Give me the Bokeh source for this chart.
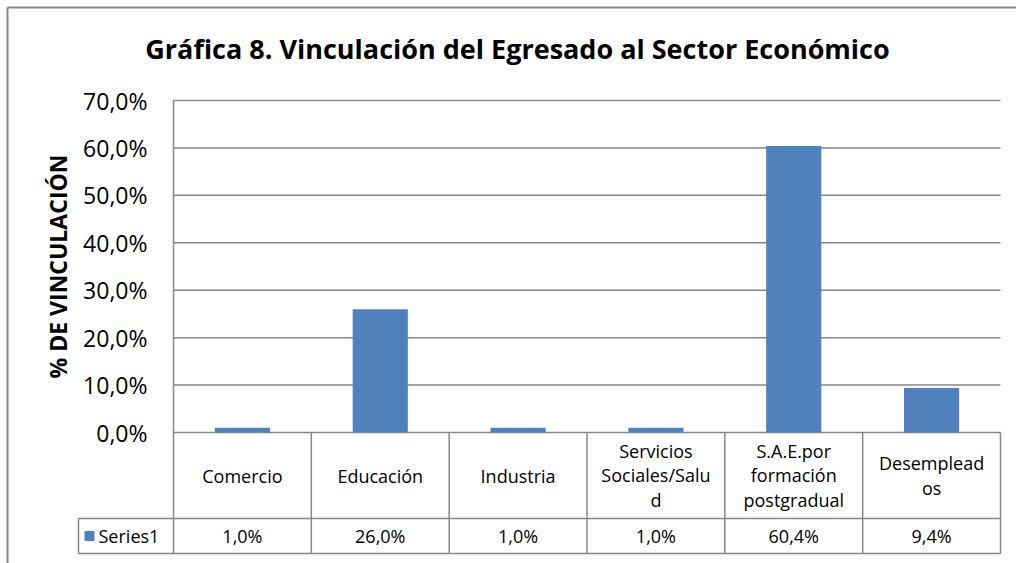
import math
from bokeh.plotting import figure
from bokeh.models import Range1d
from bokeh.core.properties import value
from bokeh.embed import file_html
from bokeh.resources import INLINE

# ---------------- data ----------------
title_text = "Gráfica 8. Vinculación del Egresado al Sector Económico"
y_title = "% DE VINCULACIÓN"
categories = ["Comercio", "Educación", "Industria",
              "Servicios\nSociales/Salu\nd",
              "S.A.E.por\nformación\npostgradual",
              "Desemplead\nos"]
series_name = "Series1"
values = [1.0, 26.0, 1.0, 1.0, 60.4, 9.4]
value_labels = ["1,0%", "26,0%", "1,0%", "1,0%", "60,4%", "9,4%"]
y_ticks = [0, 10, 20, 30, 40, 50, 60, 70]
y_tick_labels = ["0,0%", "10,0%", "20,0%", "30,0%", "40,0%", "50,0%", "60,0%", "70,0%"]

# ---------------- layout (page pixels) ----------------
W, H = 1016, 563
OFF = 0
PLOT_L, PLOT_R = 173, 1000
Y0, YTOP = 432, 100
ROW1_B, ROW2_B = 518, 553
LEG_L = 78
n = len(categories)
cat_w = (PLOT_R - PLOT_L) / n
px_per = (Y0 - YTOP) / y_ticks[-1]


def X(px):
    return (px - PLOT_L) / cat_w


def Y(py):
    return (Y0 - py) / px_per


BLUE = "#4F81BD"
GREY = "#878787"
FONT = value("Open Sans")

p = figure(width=W, height=H, output_backend="svg", toolbar_location=None,
           x_range=Range1d(X(OFF), X(OFF + W)), y_range=Range1d(Y(OFF + H), Y(OFF)),
           x_axis_type=None, y_axis_type=None, min_border=0,
           outline_line_color=None, background_fill_color="white")

# gridlines
p.segment(x0=[0] * len(y_ticks), x1=[n] * len(y_ticks), y0=y_ticks, y1=y_ticks,
          line_color=GREY, line_width=1.5)

# bars
xs = [i + 0.5 for i in range(n)]
p.vbar(x=xs, top=values, bottom=0, width=0.4, fill_color=BLUE, line_color=None)

# table lines
p.segment(x0=[X(LEG_L), X(LEG_L)], x1=[n, n], y0=[Y(ROW1_B), Y(ROW2_B)],
          y1=[Y(ROW1_B), Y(ROW2_B)], line_color=GREY, line_width=1.5)
p.segment(x0=list(range(n + 1)), x1=list(range(n + 1)),
          y0=[Y(ROW2_B)] * (n + 1), y1=[y_ticks[-1]] + [0] * n,
          line_color=GREY, line_width=1.5)
p.segment(x0=[X(LEG_L)], x1=[X(LEG_L)], y0=[Y(ROW1_B)], y1=[Y(ROW2_B)],
          line_color=GREY, line_width=1.5)

# outer chart border (top & left visible)
p.segment(x0=[X(7), X(7)], x1=[X(7), X(OFF + W)], y0=[Y(OFF + H), Y(7)], y1=[Y(7), Y(7)],
          line_color=GREY, line_width=2)

# y tick labels
p.text(x=[X(147)] * len(y_ticks), y=y_ticks, text=y_tick_labels,
       text_align="right", text_baseline="middle", text_font=FONT,
       text_font_size="23px", text_color="black")

# y title
p.text(x=[X(57)], y=[y_ticks[-1] / 2], text=[y_title], angle=math.pi / 2,
       text_align="center", text_baseline="middle", text_font=FONT,
       text_font_style="bold", text_font_size="23px", text_color="black")

# title
p.text(x=[X(517)], y=[Y(48)], text=[title_text], text_align="center",
       text_baseline="middle", text_font=FONT, text_font_style="bold",
       text_font_size="27px", text_color="black")

# category labels
p.text(x=xs, y=[Y((Y0 + ROW1_B) / 2)] * n, text=categories, text_align="center",
       text_baseline="middle", text_font=FONT, text_font_size="18px",
       text_line_height=1.03, text_color="black")

# value labels
p.text(x=xs, y=[Y((ROW1_B + ROW2_B) / 2)] * n, text=value_labels, text_align="center",
       text_baseline="middle", text_font=FONT, text_font_size="18px", text_color="black")

# legend key
p.scatter(x=[X(89)], y=[Y((ROW1_B + ROW2_B) / 2)], marker="square", size=10,
          fill_color=BLUE, line_color=None)
p.text(x=[X(98)], y=[Y((ROW1_B + ROW2_B) / 2)], text=[series_name], text_align="left",
       text_baseline="middle", text_font=FONT, text_font_size="18px", text_color="black")

open("out.html", "w").write(file_html(p, INLINE))
